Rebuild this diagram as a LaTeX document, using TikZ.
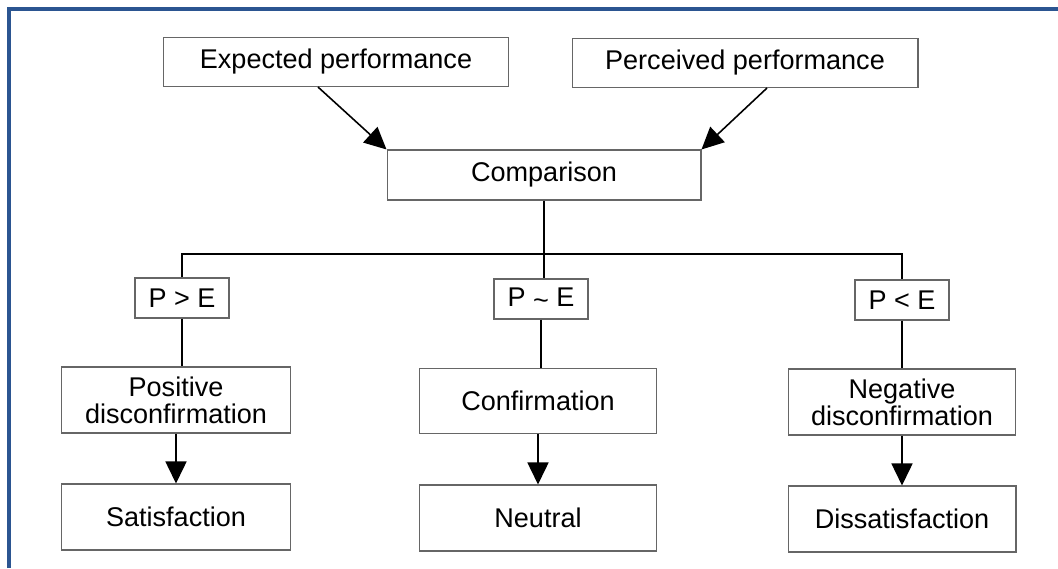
\documentclass[tikz,border=0pt]{standalone}
\usepackage{fontspec}
\setmainfont{Liberation Sans}
\usetikzlibrary{arrows.meta,calc}
\definecolor{framecol}{HTML}{2B5591}
\tikzset{
  box/.style={draw=black!60, line width=0.6pt, minimum height=0.98cm, inner sep=2pt, align=center,
    font=\fontsize{15.4}{15.2}\selectfont},
  link/.style={line width=0.9pt},
  arr/.style={line width=0.9pt, -{Triangle[length=0.44cm, width=0.42cm]}}
}
\begin{document}
\begin{tikzpicture}[x=0.02cm, y=-0.02cm]
			%%%%% FRAME %%%%%
			\useasboundingbox (0, 0) rectangle (1058, 568);
			\draw[line width=1.8pt, color=framecol] (9, 568) -- (9, 9) -- (1058, 9);

			%%%%% TOP %%%%%
			\node[box, minimum width=6.92cm] (exp) at (336, 62) {Expected performance};
			\node[box, minimum width=6.92cm] (per) at (745, 63) {Perceived performance};
			\node[box, minimum width=6.28cm, minimum height=1.0cm] (cmp) at (544, 175) {Comparison};

			\draw[arr] ($(exp.south)+(-18, 0)$) -- (cmp.north west);
			\draw[arr] ($(per.south)+(22, 0)$) -- (cmp.north east);

			%%%%% CONDITIONS %%%%%
			\node[box, minimum width=1.88cm, minimum height=0.8cm] (pgt) at (182, 298) {P > E};
			\node[box, minimum width=1.88cm, minimum height=0.8cm] (psim) at (541, 299) {P \raisebox{-0.2ex}{\textasciitilde} E};
			\node[box, minimum width=1.88cm, minimum height=0.8cm] (plt) at (902, 300) {P < E};

			\coordinate (split) at (544, 254);
			\draw[link] (cmp.south) -- (cmp.south |- psim.north);
			\draw[link] (pgt.north) |- (split) -| (plt.north);

			%%%%% OUTCOMES %%%%%
			\node[box, minimum width=4.58cm, minimum height=1.32cm] (pos) at (176, 400) {Positive\\disconfirmation};
			\node[box, minimum width=4.74cm, minimum height=1.3cm] (conf) at (538, 401) {Confirmation};
			\node[box, minimum width=4.54cm, minimum height=1.32cm] (neg) at (902, 402) {Negative\\disconfirmation};

			\node[box, minimum width=4.58cm, minimum height=1.32cm] (sat) at (176, 517) {Satisfaction};
			\node[box, minimum width=4.74cm, minimum height=1.32cm] (neu) at (538, 518) {Neutral};
			\node[box, minimum width=4.56cm, minimum height=1.32cm] (dis) at (902, 519) {Dissatisfaction};

			\draw[link] (pgt.south) -- (pgt.south |- pos.north);
			\draw[link] (psim.south) -- (psim.south |- conf.north);
			\draw[link] (plt.south) -- (plt.south |- neg.north);

			\draw[arr] (pos.south) -- (sat.north);
			\draw[arr] (conf.south) -- (neu.north);
			\draw[arr] (neg.south) -- (dis.north);
\end{tikzpicture}
\end{document}
